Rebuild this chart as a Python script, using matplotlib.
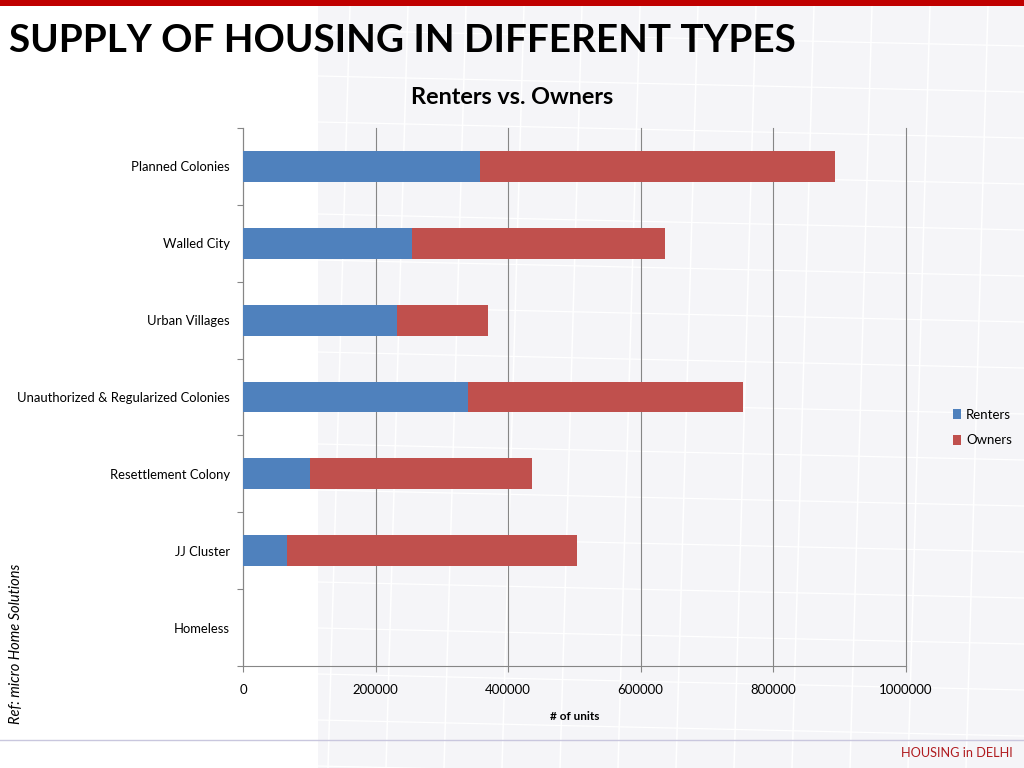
import matplotlib
matplotlib.use("Agg")
import matplotlib.pyplot as plt
from matplotlib.patches import Rectangle
from matplotlib.ticker import FixedLocator, NullFormatter

plt.rcParams['font.family'] = ['Lato', 'DejaVu Sans']

categories = ['Planned Colonies', 'Walled City', 'Urban Villages',
              'Unauthorized & Regularized Colonies', 'Resettlement Colony',
              'JJ Cluster', 'Homeless']
renters = [358000, 255500, 232000, 339500, 101000, 66000, 0]
owners = [535000, 381000, 138000, 415000, 335000, 438000, 0]
x_ticks = [0, 200000, 400000, 600000, 800000, 1000000]

W, H = 1024, 768
fig = plt.figure(figsize=(W / 100, H / 100), dpi=100, facecolor='white')

# page furniture (pixel coordinates)
bg = fig.add_axes([0, 0, 1, 1], zorder=0)
bg.set_xlim(0, W)
bg.set_ylim(H, 0)
bg.axis('off')
bg.add_patch(Rectangle((318, 6), 706, 762, color='#f5f5f8', lw=0))
# faint street-map texture behind the chart
for px in range(350, W, 58):
    bg.plot([px, px - 22], [6, H], color='white', lw=1.1, zorder=1)
for py in range(30, H, 46):
    bg.plot([318, W], [py, py + 16], color='white', lw=0.9, zorder=1)
bg.add_patch(Rectangle((0, 0), W, 6, color='#c00000', lw=0, zorder=2))
bg.plot([0, W], [739.5, 739.5], color='#c9c7de', lw=1, zorder=2)

ax = fig.add_axes([243 / W, 1 - 666 / H, 662.5 / W, 538 / H], zorder=1)
ax.patch.set_alpha(0)
y = list(range(len(categories)))
ax.barh(y, renters, height=0.4, color='#4f81bd', label='Renters', zorder=3)
ax.barh(y, owners, left=renters, height=0.4, color='#c0504d', label='Owners', zorder=3)
ax.set_ylim(len(categories) - 0.5, -0.5)
ax.set_xlim(0, 1000000)

ax.set_xticks(x_ticks)
ax.set_xticklabels([str(v) for v in x_ticks], fontsize=9.5, color='black')
ax.set_yticks(y)
ax.set_yticklabels(categories, fontsize=9.4, color='black')
ax.tick_params(axis='y', which='major', length=0, pad=9.5)
ax.yaxis.set_minor_locator(FixedLocator([i - 0.5 for i in range(len(categories) + 1)]))
ax.yaxis.set_minor_formatter(NullFormatter())
ax.tick_params(axis='y', which='minor', length=4, width=0.8, color='#868686', direction='out')
ax.tick_params(axis='x', length=4, width=0.8, color='#868686', pad=9)
ax.grid(axis='x', color='#868686', lw=0.8, zorder=1, clip_on=False)
for line in ax.get_xgridlines():
    line.set_clip_on(False)
ax.set_axisbelow(True)
for s in ['top', 'right']:
    ax.spines[s].set_visible(False)
for s in ['left', 'bottom']:
    ax.spines[s].set_color('#868686')
    ax.spines[s].set_linewidth(0.8)

ax.set_xlabel('# of units', fontsize=8.5, fontweight='bold', labelpad=11)

fig.text(9 / W, 1 - 40 / H, 'SUPPLY OF HOUSING IN DIFFERENT TYPES', fontsize=27.8,
         fontweight='bold', color='black', va='center', ha='left')
fig.text(512 / W, 1 - 98 / H, 'Renters vs. Owners', fontsize=16.8,
         fontweight='bold', color='black', va='center', ha='center')
fig.text(16 / W, 1 - 644 / H, 'Ref: micro Home Solutions', fontsize=10.5, style='italic',
         rotation=90, va='center', ha='center', color='black')
fig.text(1013 / W, 1 - 753 / H, 'HOUSING in DELHI', fontsize=9.2, color='#b01c20',
         va='center', ha='right')

ax.legend(loc='center left', bbox_to_anchor=(953 / W, 1 - 427.5 / H),
          bbox_transform=fig.transFigure, frameon=False, fontsize=9.5,
          handlelength=0.6, handleheight=0.75, handletextpad=0.4,
          labelspacing=1.05, borderpad=0, borderaxespad=0)

fig.savefig('out.png', dpi=100)
